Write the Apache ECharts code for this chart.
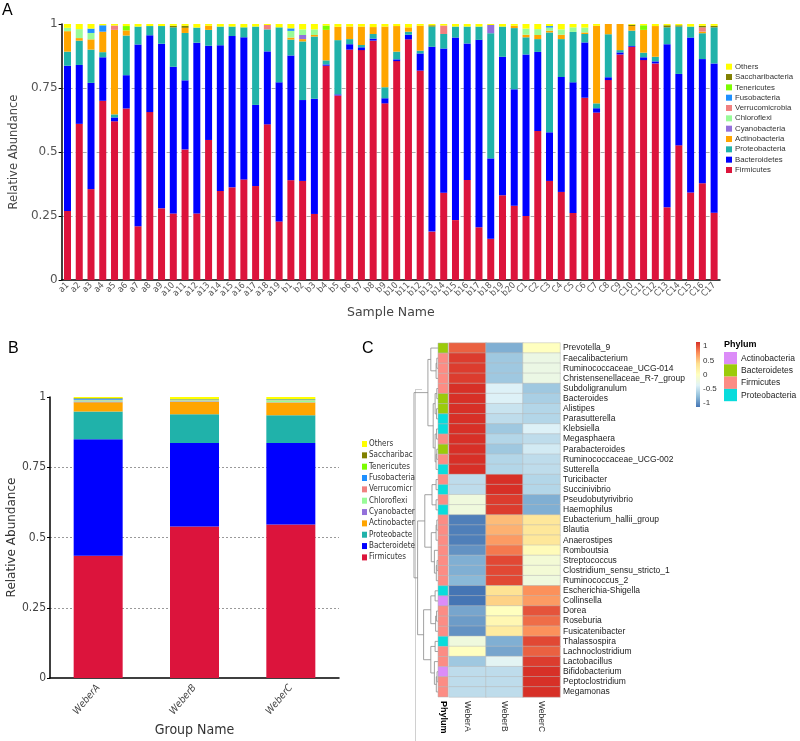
<!DOCTYPE html>
<html>
<head>
<meta charset="utf-8">
<script src="https://cdn.jsdelivr.net/npm/echarts@6/dist/echarts.min.js"></script>
<style>html,body{margin:0;padding:0;background:#fff}#main{width:800px;height:741px}</style>
</head>
<body>
<div id="main"></div>
<script>
// ---- panel A : samples ----
var samples = ['a1','a2','a3','a4','a5','a6','a7','a8','a9','a10','a11','a12','a13','a14','a15','a16','a17','a18','a19',
  'b1','b2','b3','b4','b5','b6','b7','b8','b9','b10','b11','b12','b13','b14','b15','b16','b17','b18','b19','b20',
  'C1','C2','C3','C4','C5','C6','C7','C8','C9','C10','C11','C12','C13','C14','C15','C16','C17'];

var firmicutes = [0.27,0.61,0.355,0.70,0.62,0.67,0.21,0.656,0.28,0.26,0.51,0.26,0.547,0.348,0.362,0.393,0.367,0.608,0.229,
  0.39,0.387,0.258,0.837,0.721,0.90,0.898,0.935,0.69,0.855,0.94,0.818,0.189,0.341,0.234,0.391,0.206,0.161,0.331,0.29,
  0.25,0.582,0.387,0.344,0.262,0.712,0.654,0.781,0.881,0.911,0.859,0.846,0.284,0.526,0.342,0.378,0.263];
var bacteroidetes = [0.567,0.23,0.415,0.17,0.015,0.13,0.71,0.30,0.643,0.573,0.27,0.667,0.368,0.569,0.591,0.555,0.317,0.285,0.543,
  0.487,0.316,0.45,0.005,0.004,0.021,0.011,0.008,0.02,0.007,0.018,0.067,0.722,0.563,0.713,0.533,0.732,0.314,0.541,0.455,
  0.631,0.309,0.19,0.449,0.51,0.216,0.017,0.011,0.008,0.003,0.011,0.008,0.637,0.279,0.605,0.485,0.583];
var proteobacteria = [0.055,0.095,0.13,0.02,0.012,0.155,0.07,0.036,0.069,0.154,0.185,0.059,0.062,0.073,0.037,0.039,0.306,0.086,0.215,
  0.062,0.229,0.243,0.016,0.212,0.02,0.009,0.018,0.043,0.03,0.012,0.011,0.079,0.057,0.043,0.066,0.052,0.489,0.118,0.239,
  0.067,0.05,0.39,0.148,0.197,0.033,0.019,0.168,0.009,0.06,0.018,0.018,0.066,0.185,0.043,0.101,0.141];
var actinobacteria = [0.08,0.01,0.04,0.08,0.33,0.02,0,0,0,0,0.02,0,0.016,0,0,0,0,0,0,
  0.008,0.009,0.006,0.119,0.052,0.049,0.072,0.027,0.237,0.1,0.017,0.097,0,0,0,0,0,0,0,0.009,
  0.01,0.016,0.007,0.017,0,0.006,0.303,0.04,0.102,0.018,0.089,0.12,0,0,0,0.006,0];
var cyanobacteria = [0,0,0,0,0,0,0,0,0,0,0,0,0,0,0,0,0,0,0,
  0,0.016,0,0,0,0,0,0,0,0,0,0,0,0,0,0,0,0.032,0,0,
  0,0,0,0,0,0,0,0,0,0,0,0,0,0,0,0,0];
var chloroflexi = [0.013,0.035,0.025,0,0,0,0,0,0,0,0,0,0,0,0,0,0,0,0,
  0.026,0.022,0.022,0,0,0,0,0,0,0,0,0,0,0,0,0,0,0,0,0,
  0.024,0.023,0.012,0.021,0.018,0.019,0,0,0,0,0,0,0,0,0,0,0];
var verrucomicrobia = [0,0,0,0,0.017,0,0,0,0,0,0,0,0,0,0,0,0,0.017,0,
  0,0,0,0,0,0,0,0,0,0,0,0,0,0.033,0,0,0,0,0,0,
  0,0,0,0,0,0,0,0,0,0,0,0,0,0,0,0.017,0];
var fusobacteria = [0,0,0.017,0.025,0,0,0,0,0,0,0,0,0,0,0,0,0,0,0,
  0.01,0,0,0,0,0,0,0,0,0,0,0,0,0,0,0,0,0,0,0,
  0,0,0.006,0,0,0,0,0,0,0,0,0,0,0,0,0,0];
var tenericutes = [0,0,0,0,0,0.017,0,0,0,0,0,0,0,0,0,0,0,0,0,
  0,0,0,0.017,0,0,0,0,0,0,0,0,0,0,0,0,0,0,0,0,
  0,0,0,0,0,0,0,0,0,0,0.018,0,0,0,0,0,0];
var saccharibacteria = [0,0,0,0,0,0,0,0,0,0.006,0.008,0,0,0,0,0,0,0,0,
  0,0,0,0,0,0,0,0,0,0,0,0,0.005,0,0,0,0,0,0,0,
  0,0,0,0,0,0,0,0,0,0.005,0,0,0.008,0.005,0,0.006,0.006];
var others = [0.015,0.02,0.018,0.005,0.006,0.008,0.01,0.008,0.008,0.007,0.007,0.014,0.007,0.01,0.01,0.013,0.01,0.004,0.013,
  0.017,0.021,0.021,0.006,0.011,0.01,0.01,0.012,0.01,0.008,0.013,0.007,0.005,0.006,0.01,0.01,0.01,0.004,0.01,0.007,
  0.018,0.02,0.008,0.021,0.013,0.014,0.007,0,0,0.003,0.005,0.008,0.005,0.005,0.01,0.007,0.007];

// ---- panel B : groups ----
var groups = ['WeberA','WeberB','WeberC'];
var gFirmicutes = [0.435,0.539,0.546];
var gBacteroidetes = [0.415,0.297,0.29];
var gProteobacteria = [0.098,0.103,0.099];
var gActinobacteria = [0.033,0.044,0.045];
var gCyanobacteria = [0.003,0.002,0.001];
var gChloroflexi = [0.004,0.003,0.007];
var gVerrucomicrobia = [0.002,0.002,0.001];
var gFusobacteria = [0.004,0.001,0.002];
var gTenericutes = [0.001,0.001,0.001];
var gSaccharibacteria = [0.001,0.001,0.001];
var gOthers = [0.004,0.007,0.007];

var taxa = ['Firmicutes','Bacteroidetes','Proteobacteria','Actinobacteria','Cyanobacteria','Chloroflexi',
  'Verrucomicrobia','Fusobacteria','Tenericutes','Saccharibacteria','Others'];
var taxaColors = ['#DC143C','#0000FF','#20B2AA','#FFA500','#9370DB','#98FB98','#F08080','#1E90FF','#7CFC00','#808000','#FFFF00'];
var sampleSeries = [firmicutes,bacteroidetes,proteobacteria,actinobacteria,cyanobacteria,chloroflexi,
  verrucomicrobia,fusobacteria,tenericutes,saccharibacteria,others];
var groupSeries = [gFirmicutes,gBacteroidetes,gProteobacteria,gActinobacteria,gCyanobacteria,gChloroflexi,
  gVerrucomicrobia,gFusobacteria,gTenericutes,gSaccharibacteria,gOthers];

// ---- panel C : heatmap ----
var genera = ['Prevotella_9','Faecalibacterium','Ruminococcaceae_UCG-014','Christensenellaceae_R-7_group','Subdoligranulum',
  'Bacteroides','Alistipes','Parasutterella','Klebsiella','Megasphaera','Parabacteroides','Ruminococcaceae_UCG-002',
  'Sutterella','Turicibacter','Succinivibrio','Pseudobutyrivibrio','Haemophilus','Eubacterium_hallii_group','Blautia',
  'Anaerostipes','Romboutsia','Streptococcus','Clostridium_sensu_stricto_1','Ruminococcus_2','Escherichia-Shigella',
  'Collinsella','Dorea','Roseburia','Fusicatenibacter','Thalassospira','Lachnoclostridium','Lactobacillus',
  'Bifidobacterium','Peptoclostridium','Megamonas'];
var zWeberA = [0.95,1.1,1.1,1.1,1.15,1.15,1.15,1.15,1.15,1.15,1.15,1.15,1.15,-0.55,-0.55,-0.2,-0.2,-1.1,-1.1,
  -1.1,-1.0,-0.85,-0.85,-0.8,-1.15,-1.15,-0.9,-0.95,-1.0,-0.2,0.0,-0.7,-0.55,-0.55,-0.55];
var zWeberB = [-0.85,-0.7,-0.7,-0.7,-0.4,-0.4,-0.5,-0.55,-0.7,-0.6,-0.7,-0.6,-0.6,1.15,1.15,1.1,1.1,0.55,0.6,
  0.7,0.85,1.05,1.05,1.05,0.35,0.45,0.0,0.1,0.25,-0.85,-0.9,-0.35,-0.55,-0.55,-0.55];
var zWeberC = [0.0,-0.25,-0.25,-0.25,-0.7,-0.65,-0.6,-0.6,-0.4,-0.55,-0.45,-0.55,-0.55,-0.6,-0.6,-0.85,-0.85,0.3,0.3,
  0.3,0.05,-0.15,-0.15,-0.2,0.75,0.7,1.0,0.9,0.75,1.05,0.95,1.1,1.15,1.15,1.15];
var phylumList = ['Actinobacteria','Bacteroidetes','Firmicutes','Proteobacteria'];
var phylumColors = ['#DC8CF8','#9BCB0A','#FC8C84','#08DCDC'];
var rowPhylum = ['Bacteroidetes','Firmicutes','Firmicutes','Firmicutes','Firmicutes','Bacteroidetes','Bacteroidetes',
  'Proteobacteria','Proteobacteria','Firmicutes','Bacteroidetes','Firmicutes','Proteobacteria','Firmicutes',
  'Proteobacteria','Firmicutes','Proteobacteria','Firmicutes','Firmicutes','Firmicutes','Firmicutes','Firmicutes',
  'Firmicutes','Firmicutes','Proteobacteria','Actinobacteria','Firmicutes','Firmicutes','Firmicutes','Proteobacteria',
  'Firmicutes','Firmicutes','Actinobacteria','Firmicutes','Firmicutes'];
// row clustering, hclust style: negative = row (1-based), positive = earlier merge; third = height
var merges = [[-2,-3,0.05],[1,-4,0.08],[-1,2,0.3],[-5,-6,0.05],[-7,-8,0.06],[4,5,0.12],[-9,-10,0.06],[-11,-12,0.05],
  [8,-13,0.08],[7,9,0.12],[6,10,0.2],[3,11,0.42],[-14,-15,0.08],[-16,-17,0.08],[13,14,0.25],[-18,-19,0.05],
  [16,-20,0.08],[-22,-23,0.04],[18,-24,0.07],[-21,19,0.15],[17,20,0.28],[15,21,0.55],[-25,-26,0.12],[-27,-28,0.06],
  [24,-29,0.1],[23,25,0.3],[-30,-31,0.12],[-33,-34,0.04],[28,-35,0.07],[-32,29,0.15],[27,30,0.3],[26,31,0.6],
  [22,32,0.85],[12,33,1.0]];
var heatColors = ['#4575B4','#91BFDB','#E0F3F8','#FFFFBF','#FEE090','#FC8D59','#D73027'];
var scaleTicks = [-1,-0.5,0,0.5,1];

var chart = echarts.init(document.getElementById('main'));
var fA = 'DejaVu Sans', fN = "'DejaVu Sans Condensed', 'Liberation Sans', sans-serif", fC = 'Liberation Sans';

var series = [];
for (var i = 0; i < taxa.length; i++) {
  series.push({name: taxa[i], type: 'bar', stack: 'A', xAxisIndex: 0, yAxisIndex: 0, barWidth: 7,
    itemStyle: {color: taxaColors[i]}, data: sampleSeries[i]});
}
for (var i = 0; i < taxa.length; i++) {
  series.push({name: taxa[i], type: 'bar', stack: 'B', xAxisIndex: 1, yAxisIndex: 1, barWidth: 49,
    itemStyle: {color: taxaColors[i]}, data: groupSeries[i]});
}

// dendrogram segments
var nodeY = [], nodeH = [];
function childPos(c) { return c < 0 ? [-c - 1, 0] : [nodeY[c - 1], nodeH[c - 1]]; }
var dendroData = [];
for (var k = 0; k < merges.length; k++) {
  var a = childPos(merges[k][0]), b = childPos(merges[k][1]);
  nodeY[k] = (a[0] + b[0]) / 2;
  nodeH[k] = merges[k][2];
  dendroData.push([a[0], b[0], a[1], b[1], merges[k][2]]);
}
series.push({type: 'custom', xAxisIndex: 2, yAxisIndex: 2, silent: true, data: dendroData,
  encode: {x: [2, 3, 4], y: [0, 1]},
  renderItem: function (params, api) {
    var p1 = api.coord([api.value(2), api.value(0)]);
    var p2 = api.coord([api.value(4), api.value(0)]);
    var p3 = api.coord([api.value(4), api.value(1)]);
    var p4 = api.coord([api.value(3), api.value(1)]);
    return {type: 'polyline', shape: {points: [p1, p2, p3, p4]}, style: {stroke: '#8a8a8a', fill: null, lineWidth: 0.8}};
  }});

// phylum annotation column
var annData = [];
for (var r = 0; r < genera.length; r++) annData.push([0, r, phylumList.indexOf(rowPhylum[r])]);
series.push({type: 'custom', xAxisIndex: 3, yAxisIndex: 3, silent: true, data: annData,
  renderItem: function (params, api) {
    var c = api.coord([api.value(0), api.value(1)]);
    var s = api.size([1, 1]);
    return {type: 'rect', shape: {x: c[0] - s[0] / 2, y: c[1] - s[1] / 2, width: s[0], height: s[1]},
      style: {fill: phylumColors[api.value(2)], stroke: '#b0b0b0', lineWidth: 0.5}};
  }});

// heatmap cells
var heatData = [];
for (var r = 0; r < genera.length; r++) {
  heatData.push([0, r, zWeberA[r]]);
  heatData.push([1, r, zWeberB[r]]);
  heatData.push([2, r, zWeberC[r]]);
}
var heatIndex = series.length;
series.push({type: 'heatmap', xAxisIndex: 4, yAxisIndex: 4, data: heatData, silent: true,
  itemStyle: {borderColor: '#b8b8b8', borderWidth: 0.5}});

// colour key
var stops = [];
for (var i = 0; i < heatColors.length; i++) stops.push({offset: i / (heatColors.length - 1), color: heatColors[heatColors.length - 1 - i]});
series.push({type: 'custom', xAxisIndex: 5, yAxisIndex: 5, silent: true, data: [[0, 0]],
  renderItem: function (params, api) {
    var t = api.coord([0, 1.15]);
    var b = api.coord([1, -1.15]);
    return {type: 'rect', shape: {x: t[0], y: t[1], width: b[0] - t[0], height: b[1] - t[1]},
      style: {fill: new echarts.graphic.LinearGradient(0, 0, 0, 1, stops)}};
  }});

var hidden = {show: false};
var graphic = [
  {type: 'text', left: 2, top: 3, style: {text: 'A', font: '16px Liberation Sans', fill: '#000'}},
  {type: 'text', left: 8, top: 341, style: {text: 'B', font: '16px Liberation Sans', fill: '#000'}},
  {type: 'text', left: 362, top: 341, style: {text: 'C', font: '16px Liberation Sans', fill: '#000'}},
  {type: 'line', shape: {x1: 415.5, y1: 389, x2: 415.5, y2: 741}, style: {stroke: '#d0d0d0', lineWidth: 1}},
  {type: 'line', shape: {x1: 415, y1: 389.5, x2: 422, y2: 389.5}, style: {stroke: '#d0d0d0', lineWidth: 1}},
  {type: 'text', left: 724, top: 340, style: {text: 'Phylum', font: 'bold 9px Liberation Sans', fill: '#000'}}
];
for (var i = 0; i < phylumList.length; i++) {
  graphic.push({type: 'rect', shape: {x: 724, y: 352 + i * 12.3, width: 13, height: 12.3}, style: {fill: phylumColors[i]}});
  graphic.push({type: 'text', left: 741, top: 354 + i * 12.3, style: {text: phylumList[i], font: '8.5px Liberation Sans', fill: '#222'}});
}

var option = {
  animation: false,
  backgroundColor: '#fff',
  graphic: graphic,
  visualMap: {type: 'continuous', show: false, min: -1.15, max: 1.15, seriesIndex: heatIndex, inRange: {color: heatColors}},
  legend: [
    {orient: 'vertical', left: 726, top: 62.7, padding: 0, icon: 'rect', itemWidth: 6, itemHeight: 6, itemGap: 2.33, selectedMode: false,
      data: taxa.slice().reverse(),
      textStyle: {fontFamily: fC, fontSize: 7.8, lineHeight: 6, color: '#333', padding: [0, 0, 0, -2]}},
    {orient: 'vertical', left: 362, top: 440, padding: 0, icon: 'rect', itemWidth: 5, itemHeight: 6, itemGap: 3.34, selectedMode: false,
      data: taxa.slice().reverse(),
      textStyle: {fontFamily: fN, fontSize: 8, lineHeight: 6, color: '#333', padding: [0, 0, 0, -3],
        width: 47, overflow: 'truncate', ellipsis: ''}}
  ],
  grid: [
    {left: 52, right: 80, top: 24, bottom: 461},
    {left: 50, right: 461, top: 397, bottom: 63},
    {left: 414, right: 362, top: 343, bottom: 44},
    {left: 438, right: 352, top: 343, bottom: 44},
    {left: 449, right: 240, top: 343, bottom: 44},
    {left: 696, right: 100, top: 342, bottom: 334}
  ],
  xAxis: [
    {gridIndex: 0, type: 'category', data: samples, name: 'Sample Name', nameLocation: 'middle', nameGap: 26,
      nameTextStyle: {fontFamily: fA, fontSize: 12.5, color: '#444'},
      axisLine: {lineStyle: {color: '#000', width: 1.5}},
      axisTick: hidden,
      axisLabel: {interval: 0, rotate: 45, fontFamily: fN, fontSize: 9, color: '#555', margin: 4}},
    {gridIndex: 1, type: 'category', data: groups, name: 'Group Name', nameLocation: 'middle', nameGap: 45,
      nameTextStyle: {fontFamily: fN, fontSize: 14, color: '#333'},
      axisLine: {lineStyle: {color: '#000', width: 1.5}},
      axisTick: {length: 3, lineStyle: {color: '#000'}},
      axisLabel: {interval: 0, rotate: 50, fontFamily: fN, fontStyle: 'italic', fontSize: 10, color: '#444', margin: 8}},
    {gridIndex: 2, type: 'value', min: 0, max: 1, inverse: true, show: false},
    {gridIndex: 3, type: 'category', data: ['Phylum'], axisLine: hidden, axisTick: hidden,
      axisLabel: {rotate: -90, fontFamily: fC, fontWeight: 'bold', fontSize: 9, color: '#000', margin: 4}},
    {gridIndex: 4, type: 'category', data: groups, axisLine: hidden, axisTick: hidden,
      axisLabel: {rotate: -90, fontFamily: fC, fontSize: 8.5, color: '#333', margin: 4}},
    {gridIndex: 5, type: 'value', min: 0, max: 1, show: false}
  ],
  yAxis: [
    {gridIndex: 0, type: 'value', min: 0, max: 1, interval: 0.25, name: 'Relative Abundance', nameLocation: 'middle', nameGap: 34,
      nameTextStyle: {fontFamily: fA, fontSize: 11.5, color: '#444'},
      axisLine: {show: true, lineStyle: {color: '#000', width: 1.5}},
      axisTick: {show: true, length: 3, lineStyle: {color: '#000'}},
      axisLabel: {fontFamily: fA, fontSize: 12, color: '#555', margin: 4, formatter: function (v) { return String(v); }},
      splitLine: {show: true, showMinLine: false, showMaxLine: false, lineStyle: {color: '#aaa', type: [4, 3]}}},
    {gridIndex: 1, type: 'value', min: 0, max: 1, interval: 0.25, name: 'Relative Abundance', nameLocation: 'middle', nameGap: 31,
      nameTextStyle: {fontFamily: fA, fontSize: 12, color: '#333'},
      axisLine: {show: true, lineStyle: {color: '#000', width: 1.5}},
      axisTick: {show: true, length: 3, lineStyle: {color: '#000'}},
      axisLabel: {fontFamily: fN, fontSize: 12, color: '#444', margin: 4, formatter: function (v) { return String(v); }},
      splitLine: {show: true, showMinLine: false, showMaxLine: false, lineStyle: {color: '#999', type: [2, 2]}}},
    {gridIndex: 2, type: 'value', min: -0.5, max: genera.length - 0.5, inverse: true, show: false},
    {gridIndex: 3, type: 'category', data: genera, inverse: true, show: false},
    {gridIndex: 4, type: 'category', data: genera, inverse: true, position: 'right',
      axisLine: hidden, axisTick: hidden,
      axisLabel: {interval: 0, fontFamily: fC, fontSize: 8.5, color: '#222', margin: 3}},
    {gridIndex: 5, type: 'value', min: -1.15, max: 1.15, position: 'right', axisLine: hidden, axisTick: hidden, splitLine: hidden,
      axisLabel: {customValues: scaleTicks, fontFamily: fC, fontSize: 8, color: '#333', margin: 3}}
  ],
  series: series
};
chart.setOption(option);
</script>
</body>
</html>
